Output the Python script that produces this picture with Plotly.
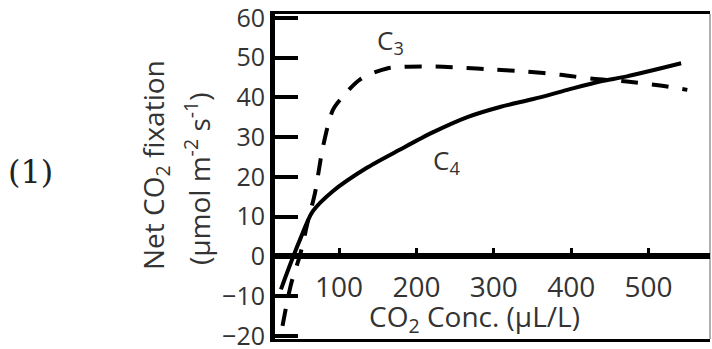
import plotly.graph_objects as go

# values
c3_x = [27, 38, 50, 60, 69, 79, 92, 104, 127, 162, 214, 256, 299, 343, 386, 428, 472, 515, 550]
c3_y = [-17.5, -7, 0.6, 9, 16, 27.3, 36.8, 40, 44.5, 47.3, 47.8, 47.5, 47, 46.5, 45.7, 44.7, 44, 43, 41.9]

c4_x = [25, 37, 50, 66, 92, 136, 179, 221, 265, 308, 351, 395, 437, 472, 542]
c4_y = [-8.3, -2, 4.4, 11.3, 16.4, 22.3, 26.9, 31.2, 35, 37.6, 39.6, 41.9, 44, 45.3, 48.6]

x_ticks = [100, 200, 300, 400, 500]
y_ticks_pos = [0, 10, 20, 30, 40, 50, 60]
y_ticks_neg = [-20, -10]

W, H = 712, 349
L, R, T, B = 275, 2, 14, 10
x_range = [17.3, 579.3]
y_min, y_max = -20.8, 61.0

FONT = "Open Sans"
TXT = "#333333"


def px(x, y):
    # pixel position in the page -> paper coordinates
    return (x - L) / (W - L - R), (H - B - y) / (H - T - B)


# the plot is split at y = 0 so the x axis (ticks + labels) sits on the zero line
split = -y_min / (y_max - y_min)

fig = go.Figure()

for xa, ya in [("x", "y"), ("x2", "y2")]:
    fig.add_trace(go.Scatter(
        x=c3_x, y=c3_y, mode="lines", name="C3", xaxis=xa, yaxis=ya,
        line=dict(color="black", width=4, dash="17px,14px", shape="spline", smoothing=0.8),
    ))
    fig.add_trace(go.Scatter(
        x=c4_x, y=c4_y, mode="lines", name="C4", xaxis=xa, yaxis=ya,
        line=dict(color="black", width=4, shape="spline", smoothing=0.8),
    ))

y_common = dict(showline=True, linecolor="black", linewidth=5,
                ticks="inside", ticklen=23, tickwidth=4, tickcolor="black",
                ticklabeloverflow="allow",
                tickfont=dict(size=25, color=TXT, family=FONT))

fig.update_layout(
    template="simple_white",
    width=W, height=H,
    margin=dict(l=L, r=R, t=T, b=B, autoexpand=False),
    plot_bgcolor="rgba(0,0,0,0)",
    showlegend=False,
    xaxis=dict(
        range=x_range, anchor="y", domain=[0, 1],
        showline=True, mirror=True, linecolor="black", linewidth=3,
        tickvals=x_ticks, ticks="inside", ticklen=8, tickwidth=3, tickcolor="black",
        ticklabeloverflow="allow",
        tickfont=dict(size=28, color=TXT, family=FONT),
        ticklabelstandoff=4,
    ),
    yaxis=dict(range=[0, y_max], domain=[split, 1], anchor="x", tickvals=y_ticks_pos, **y_common),
    xaxis2=dict(
        range=x_range, anchor="y2", domain=[0, 1], matches="x",
        showline=True, mirror=True, linecolor="black", linewidth=3,
        showticklabels=False, ticks="",
    ),
    yaxis2=dict(range=[y_min, 0], domain=[0, split], anchor="x2", tickvals=y_ticks_neg, **y_common),
)

# right edge of the frame
fig.add_shape(type="line", xref="paper", yref="paper", x0=1, x1=1, y0=0, y1=1,
              line=dict(color="black", width=2))

ax, ay = px(155, 165)
fig.add_annotation(x=ax, y=ay, xref="paper", yref="paper", text="Net CO<sub>2</sub> fixation",
                   textangle=-90, showarrow=False, xanchor="center", yanchor="middle",
                   font=dict(size=28, color=TXT, family=FONT))
ax, ay = px(197, 179)
fig.add_annotation(x=ax, y=ay, xref="paper", yref="paper",
                   text="(μmol m<sup>-2</sup> s<sup>-1</sup>)",
                   textangle=-90, showarrow=False, xanchor="center", yanchor="middle",
                   font=dict(size=28, color=TXT, family=FONT))
ax, ay = px(474, 318)
fig.add_annotation(x=ax, y=ay, xref="paper", yref="paper", text="CO<sub>2</sub> Conc. (μL/L)",
                   showarrow=False, xanchor="center", yanchor="middle",
                   font=dict(size=28, color=TXT, family=FONT))

fig.add_annotation(x=167, y=54.2, text="C<sub>3</sub>", showarrow=False,
                   font=dict(size=26, color=TXT, family=FONT))
fig.add_annotation(x=239.5, y=24, text="C<sub>4</sub>", showarrow=False,
                   font=dict(size=26, color=TXT, family=FONT))

ax, ay = px(30, 172)
fig.add_annotation(x=ax, y=ay, xref="paper", yref="paper", text="(1)", showarrow=False,
                   xanchor="center", yanchor="middle",
                   font=dict(size=32, color="#222222", family="DejaVu Serif"))

fig.write_html("out.html", config={"displayModeBar": False},
               post_script="document.body.style.margin='0';")
